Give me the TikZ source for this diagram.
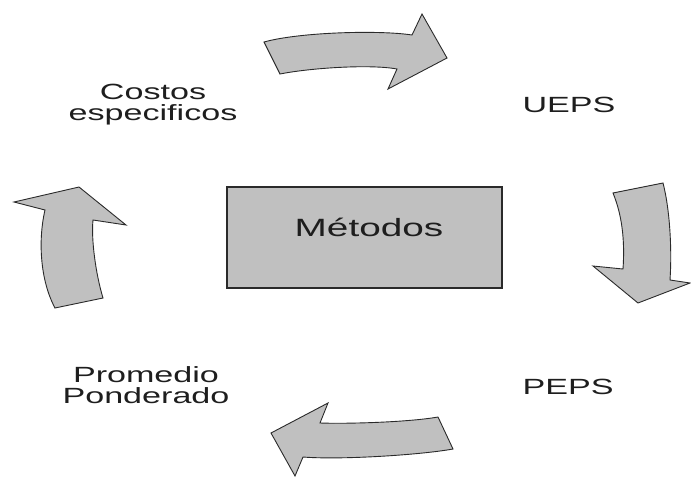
\documentclass[tikz,border=0pt]{standalone}
\usepackage{fontspec}
\setmainfont{Liberation Sans}
\newfontfamily\widefont[FakeStretch=1.55]{Liberation Sans}
\definecolor{arrowfill}{HTML}{C0C0C0}
\definecolor{boxfill}{HTML}{C0C0C0}
\definecolor{edge}{HTML}{2A2A2A}
\definecolor{txtcol}{HTML}{1E1E1E}
\tikzset{
  blockarrow/.style={fill=arrowfill, draw=edge, line width=0.9pt, line join=miter},
  label/.style={font=\widefont\fontsize{22}{21}\selectfont, text=txtcol, align=center, inner sep=0pt},
  methodbox/.style={draw=edge, line width=1.6pt, fill=boxfill, minimum width=275pt, minimum height=101pt, inner sep=0pt}
}
\begin{document}
\begin{tikzpicture}[x=1pt,y=-1pt]
\useasboundingbox (0,0) rectangle (691,477);
% central box
\node[methodbox] (box) at (364.5,237.5) {};
\node[font=\widefont\fontsize{25}{25}\selectfont, text=txtcol, inner sep=0pt, anchor=base] (metodos) at (369,236) {Métodos};
% labels (anchor base = baseline of the last line)
\node[label, anchor=base] (costos) at (153,120) {Costos\\especificos};
\node[label, anchor=base] (ueps) at (569,112) {UEPS};
\node[label, anchor=base] (peps) at (568,394) {PEPS};
\node[label, anchor=base] (promedio) at (146,403) {Promedio\\Ponderado};
% top arrow (to the right)
\draw[blockarrow] (264,42) -- (280,74)
  .. controls (310,68) and (370,64) .. (397,69)
  -- (388,89) -- (447,58) -- (422,14) -- (412,35)
  .. controls (380,30) and (300,32) .. cycle;
% right arrow (downward)
\draw[blockarrow] (613,193) -- (663,183)
  .. controls (670,210) and (672,250) .. (670,280)
  -- (690,283) -- (638,303) -- (593,266) -- (623,269)
  .. controls (625,240) and (622,215) .. cycle;
% bottom arrow (to the left)
\draw[blockarrow] (438,417) -- (453,449)
  .. controls (420,455) and (340,460) .. (303,457)
  -- (295,476) -- (271,433) -- (328,403) -- (320,423)
  .. controls (350,424) and (410,422) .. cycle;
% left arrow (upward)
\draw[blockarrow] (55,308) -- (103,298)
  .. controls (96,275) and (91,240) .. (93,220)
  -- (126,225) -- (79,187) -- (14,202) -- (45,210)
  .. controls (38,240) and (40,280) .. cycle;
\end{tikzpicture}
\end{document}
